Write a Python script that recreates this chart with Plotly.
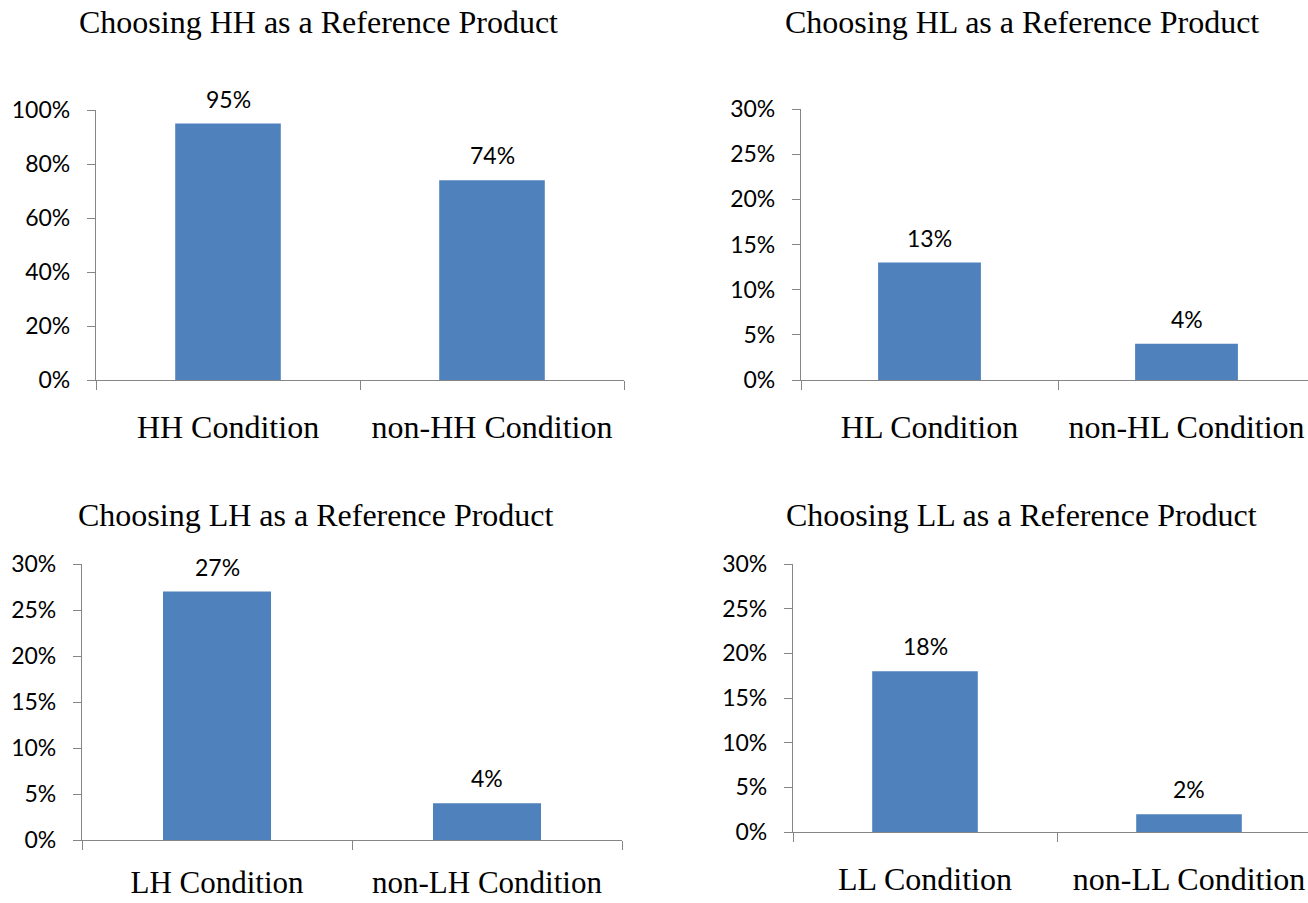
import plotly.graph_objects as go

# Share of respondents choosing each product type as the reference product
titles = [
    "Choosing HH as a Reference Product",
    "Choosing HL as a Reference Product",
    "Choosing LH as a Reference Product",
    "Choosing LL as a Reference Product",
]
hh_categories = ["HH Condition", "non-HH Condition"]
hl_categories = ["HL Condition", "non-HL Condition"]
lh_categories = ["LH Condition", "non-LH Condition"]
ll_categories = ["LL Condition", "non-LL Condition"]
hh_values = [0.95, 0.74]
hl_values = [0.13, 0.04]
lh_values = [0.27, 0.04]
ll_values = [0.18, 0.02]
hh_ticks = [0, 0.2, 0.4, 0.6, 0.8, 1.0]
small_ticks = [0, 0.05, 0.10, 0.15, 0.20, 0.25, 0.30]

W, H = 1308, 903
BAR = "#4F81BD"
AXIS = "#868686"
SERIF = "Liberation Serif, Times New Roman, serif"
SANS = "Lato, Carlito, Calibri, sans-serif"

# panel frames in pixels: left, right, top, bottom, end of the category range
panels = [
    dict(cats=hh_categories, vals=hh_values, ticks=hh_ticks, ymax=1.0,
         l=96, r=624, t=110, b=380, xend=1.5, tx=318, ty=22, cat_size=32, standoff=18),
    dict(cats=hl_categories, vals=hl_values, ticks=small_ticks, ymax=0.30,
         l=801, r=1308, t=109, b=380, xend=-0.5 + 507 / 257, tx=1022, ty=22,
         cat_size=32, standoff=18),
    dict(cats=lh_categories, vals=lh_values, ticks=small_ticks, ymax=0.30,
         l=82, r=622, t=564, b=840, xend=1.5, tx=316, ty=515, cat_size=31, standoff=15),
    dict(cats=ll_categories, vals=ll_values, ticks=small_ticks, ymax=0.30,
         l=793, r=1308, t=564, b=832, xend=-0.5 + 515 / 264, tx=1021, ty=515,
         cat_size=32, standoff=18),
]

fig = go.Figure()
annotations = []
layout = {}

for i, p in enumerate(panels, start=1):
    xa = "x" if i == 1 else f"x{i}"
    ya = "y" if i == 1 else f"y{i}"
    fig.add_trace(go.Bar(
        x=p["cats"], y=p["vals"], xaxis=xa, yaxis=ya,
        marker=dict(color=BAR, line=dict(width=0)),
        showlegend=False, hoverinfo="skip",
    ))
    for c, v in zip(p["cats"], p["vals"]):
        annotations.append(dict(
            x=c, y=v, xref=xa, yref=ya, text=f"{round(v * 100)}%",
            showarrow=False, yanchor="middle", yshift=25,
            font=dict(family=SANS, size=23, color="#000000"),
        ))
    annotations.append(dict(
        x=p["tx"] / W, y=1 - p["ty"] / H, xref="paper", yref="paper",
        text=titles[i - 1], showarrow=False, xanchor="center", yanchor="middle",
        font=dict(family=SERIF, size=32, color="#000000"),
    ))
    xkey = "xaxis" if i == 1 else f"xaxis{i}"
    ykey = "yaxis" if i == 1 else f"yaxis{i}"
    layout[xkey] = dict(
        domain=[p["l"] / W, min(p["r"] / W, 1.0)],
        anchor=ya, type="category", range=[-0.5, p["xend"]],
        showline=True, linecolor=AXIS, linewidth=1.3,
        ticks="outside", tickson="boundaries", ticklen=9, tickcolor=AXIS, tickwidth=1.3,
        showgrid=False, zeroline=False, automargin=False,
        tickfont=dict(family=SERIF, size=p["cat_size"], color="#000000"),
        ticklabelstandoff=p["standoff"],
    )
    layout[ykey] = dict(
        domain=[1 - p["b"] / H, 1 - p["t"] / H],
        anchor=xa, range=[0, p["ymax"]],
        tickvals=p["ticks"], tickformat=".0%",
        showline=True, linecolor=AXIS, linewidth=1.3,
        ticks="outside", ticklen=8, tickcolor=AXIS, tickwidth=1.3,
        showgrid=False, zeroline=False, automargin=False,
        tickfont=dict(family=SANS, size=23, color="#000000"),
        ticklabelstandoff=12,
    )

fig.update_layout(
    width=W, height=H,
    margin=dict(l=0, r=0, t=0, b=0, autoexpand=False),
    paper_bgcolor="white", plot_bgcolor="white",
    bargap=0.6,
    annotations=annotations,
    **layout,
)

fig.write_html("out.html")
